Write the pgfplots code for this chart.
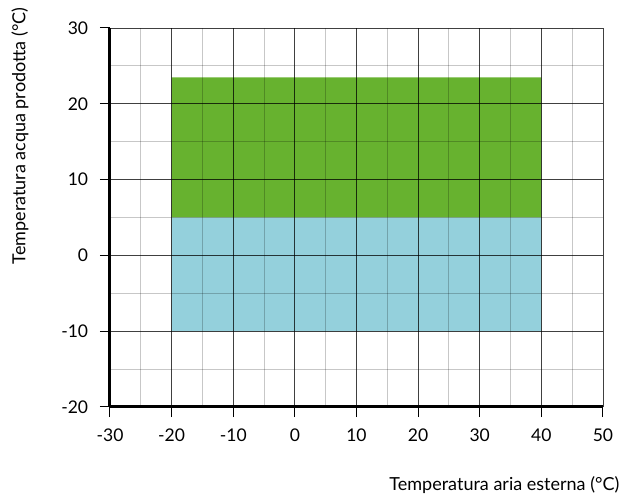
\documentclass[border=0pt]{standalone}
\usepackage{fontspec}
\setmainfont{Lato}
\usepackage{pgfplots}
\pgfplotsset{compat=1.18}
\definecolor{cgreen}{HTML}{67B22F}
\definecolor{cblue}{HTML}{94D0DC}
\begin{document}
\fontsize{17pt}{20pt}\selectfont
\begin{tikzpicture}
\useasboundingbox (-110pt,-91pt) rectangle (517pt,407pt);
\begin{axis}[
  at={(0,0)}, anchor=south west,
  scale only axis, width=493pt, height=379pt,
  xmin=-30, xmax=50, ymin=-20, ymax=30,
  xtick={-30,-20,...,50},
  xticklabels={-30,-20,-10,0,10,20,30,40,50},
  ytick={-20,-10,...,30},
  yticklabels={-20,-10,0,10,20,30},
  minor tick num=1,
  minor tick length=0pt,
  major tick length=10pt,
  tick align=outside,
  tick style={black, line width=1pt},
  grid=both,
  major grid style={black, opacity=0.75, line width=0.8pt},
  minor grid style={black, opacity=0.22, line width=1pt},
  axis x line*=bottom, axis y line*=left,
  axis line style={-, black, line width=3pt},
  axis on top,
  ticklabel style={font=\fontsize{17.5pt}{20pt}\selectfont},
  xticklabel style={yshift=-6pt},
  yticklabel style={xshift=-6pt},
  xlabel={Temperatura aria esterna (°C)},
  ylabel={Temperatura acqua prodotta (°C)},
  label style={font=\fontsize{18pt}{21pt}\selectfont},
  xlabel style={at={(axis description cs:1.045,-0.205)}, anchor=east},
  ylabel style={at={(axis description cs:-0.1826,0.715)}, anchor=center},
]
\addplot[fill=cblue, draw=none] coordinates {(-20,-10) (40,-10) (40,5) (-20,5) (-20,-10)};
\addplot[fill=cgreen, draw=none] coordinates {(-20,5) (40,5) (40,23.5) (-20,23.5) (-20,5)};
\end{axis}
\end{tikzpicture}
\end{document}
